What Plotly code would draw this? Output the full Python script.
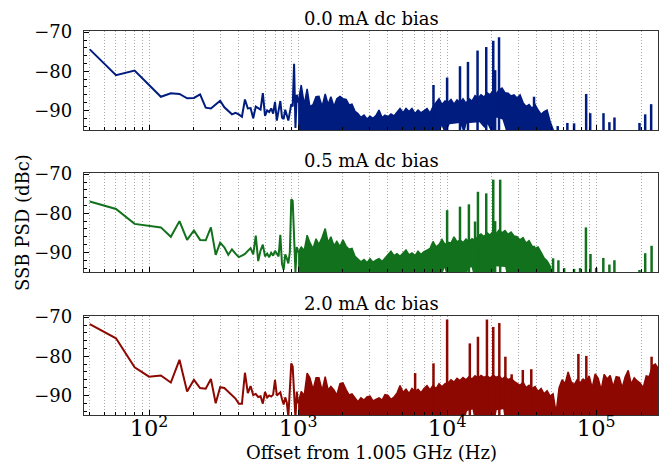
import math
import plotly.graph_objects as go
from plotly.subplots import make_subplots

# ---------------- data ----------------
titles = ["0.0 mA dc bias", "0.5 mA dc bias", "2.0 mA dc bias"]
colors = ["#001c7f", "#12711c", "#8c0800"]

# low-frequency bins (Hz)
lf_freq = [40, 60, 80, 100, 120, 140, 160, 180, 200, 220, 240, 260, 280, 300, 320, 340,
           360, 380, 400, 420, 440, 460, 480, 500, 520, 540, 560, 580, 600, 620, 640, 660,
           680, 700, 720, 740, 760, 780, 800, 820, 840, 860, 880, 900, 920, 940, 960, 980]

lf_0mA = [-74.4, -81.0, -79.8, -83.6, -86.5, -85.6, -85.8, -86.9, -86.8, -85.9, -89.3, -89.5,
          -88.5, -87.5, -89.2, -90.2, -91.0, -90.6, -91.0, -91.6, -87.2, -89.5, -89.4, -92.0,
          -89.0, -89.4, -89.8, -85.6, -91.4, -90.0, -90.4, -89.5, -90.8, -87.8, -92.6, -90.0,
          -87.6, -91.8, -92.2, -89.8, -91.0, -92.6, -90.5, -88.4, -89.0, -78.1, -94.5, -86.0]
lf_05mA = [-77.0, -78.9, -82.7, -83.1, -83.6, -86.0, -82.0, -86.8, -84.4, -86.8, -86.9, -83.6,
           -90.6, -87.5, -88.7, -90.6, -89.2, -90.3, -91.2, -90.8, -90.4, -89.6, -88.9, -90.5,
           -85.7, -92.2, -89.5, -88.0, -91.0, -90.3, -91.2, -90.1, -90.8, -89.6, -90.5, -91.0,
           -85.5, -93.0, -94.4, -90.5, -91.5, -92.8, -90.0, -76.4, -76.8, -88.0, -95.0, -88.6]
lf_2mA = [-71.8, -75.4, -82.8, -85.2, -84.9, -86.7, -80.9, -89.0, -86.0, -88.1, -88.3, -85.8,
          -92.0, -87.9, -88.1, -89.1, -89.9, -90.8, -92.1, -92.1, -84.2, -89.4, -87.6, -89.9,
          -89.6, -90.4, -90.2, -92.1, -89.1, -90.5, -90.0, -90.3, -89.8, -86.0, -90.0, -89.5,
          -89.2, -91.0, -92.3, -90.5, -91.8, -95.5, -88.0, -81.8, -82.6, -90.0, -96.0, -89.0]

# dense noise region: upper envelope on a common frequency grid (Hz)
band_freq = [1000, 1050, 1100, 1150, 1200, 1260, 1320, 1380, 1450, 1520, 1590, 1660, 1740, 1820,
             1910, 2000, 2100, 2200, 2300, 2410, 2520, 2640, 2770, 2900, 3040, 3180, 3330, 3490,
             3660, 3830, 4010, 4200, 4400, 4610, 4830, 5060, 5300, 5550, 5810, 6090, 6380, 6680,
             7000, 7330, 7680, 8040, 8420, 8820, 9240, 9680, 10140, 10620, 11120, 11650, 12200,
             12780, 13390, 14020, 14690, 15390, 16120, 16880, 17680, 18520, 19400, 20320, 21290,
             22300, 23360, 24470, 25630, 26850, 28120, 29460, 30860, 32320, 33860, 35470, 37150,
             38920, 40770, 42710, 44740, 46860, 49090, 51420, 53860, 56420, 59100, 61910, 64850,
             67930, 71160, 74540, 78080, 81790, 85680, 89750, 94010, 98480, 103160, 108060,
             113190, 118570, 124210, 130110, 136290, 142770, 149550, 156650, 164090, 171890,
             180050, 188610, 197570, 206950, 216780, 227080, 237870, 249170, 261000]

band_hi_0mA = [-88, -83.5, -88.5, -84.5, -89,
               -88.5, -86.5, -86.4, -89, -85.8, -88.5, -86.5, -89, -87, -86.4,
               -87.0, -87.2, -88.6, -88.4, -90.2,
               -90.8, -91.8, -91.2, -92.2, -91.5, -92.0, -91.3, -89.9,
               -91.8, -91.2, -91.6, -90.9, -91.4, -90.5, -89.5,
               -90.6, -89.5, -90.3, -89.5, -90.8, -89.9, -90.6, -90.0, -89.5, -90.7,
               -89.0, -88.0, -87.0, -88.5, -87.6,
               -88.0, -87.2, -88.4, -87.3, -88.0, -87.0, -88.2, -87.0, -87.6, -86.2,
               -86.8, -86.0, -86.6, -85.5, -86.0, -85.0, -85.8, -84.8, -84.3, -85.5,
               -85.6, -86.3, -86.0, -86.8, -86.0, -88.0, -89.0, -88.5,
               -89.5, -88.5, -89.9, -91.0, -90.3, -89.9, -92.8,
               -95.5] + [-97] * 35
band_hi_05mA = [-90, -88.6, -89.5, -85.6, -87.5,
                -89.0, -86.5, -88.0, -86.1, -83.9, -87.5, -86.0, -88.3, -87.2, -88.5,
                -86.8, -88.4, -89.2, -89.0, -91.0,
                -91.7, -92.4, -91.8, -92.6, -91.6, -92.5, -92.0, -91.6,
                -92.3, -91.4, -90.6, -89.7, -90.8, -90.3, -91.0,
                -90.2, -89.4, -90.6, -90.1, -90.8, -89.7, -90.5, -89.8, -89.4, -89.0,
                -87.2, -88.6, -88.0, -86.7, -88.0,
                -87.4, -87.6, -86.0, -87.3, -86.8, -87.5, -86.6, -87.2, -86.5, -86.9,
                -85.8, -85.3, -86.0, -85.0, -85.6, -84.6, -85.2, -84.3, -85.0, -84.4,
                -85.4, -84.8, -85.8, -86.0, -86.8, -86.2, -87.6, -87.0,
                -88.4, -89.0, -88.6, -90.0, -91.4, -92.2, -93.5,
                -96] + [-97] * 35
band_hi_2mA = [-92, -89.0, -90, -84.3, -85.5,
               -88.5, -85.5, -85.5, -88.8, -85.2, -88.6, -87.7, -88.6, -89.9, -87.0,
               -86.8, -88.5, -89.9, -89.6, -90.6,
               -91.6, -90.6, -91.2, -90.4, -90.2, -91.4, -91.0, -90.6,
               -91.2, -89.8, -90.0, -91.0, -90.4, -89.4, -87.5,
               -89.2, -88.4, -89.5, -88.2, -89.0, -88.4, -89.3, -88.2, -87.5, -88.6,
               -87.4, -88.3, -87.0, -87.8, -87.0,
               -86.8, -86.0, -86.6, -85.6, -86.2, -85.4, -86.0, -85.2, -85.8, -85.0,
               -85.6, -84.9, -85.4, -85.0, -85.6, -84.8, -85.4, -85.0, -85.8, -85.2,
               -86.0, -85.6, -86.4, -86.8, -87.4, -86.6, -88.0, -87.4,
               -88.2, -87.7, -89.0, -88.2, -89.6, -88.8, -90.2,
               -89.6, -94.5, -88.0, -86.0, -87.0, -84.0, -86.5, -87.3, -86.0, -86.8,
               -85.8, -86.4, -85.0, -88.1, -84.5, -85.6, -88.6, -84.6, -85.8, -84.9,
               -87.8, -85.2, -85.4, -88.0, -85.2, -83.6, -87.1, -85.5, -86.3, -86.9,
               -88.0, -85.0, -85.2, -82.5, -82.0, -83.1]

# lower envelope of the dense region
lo_freq_0mA = [1000, 8800, 9200, 9700, 10400, 12200, 13000, 13500, 14200, 16500, 17800, 18700,
               20000, 20800, 21500, 23500, 24500, 25500, 261000]
lo_0mA = [-97, -97, -94, -96, -93.5, -93.2, -96, -93.4, -93.2, -93.0, -94.5, -93.5,
          -96, -92.5, -91.8, -92.3, -94.5, -97, -97]
lo_freq_05mA = [1000, 9000, 9600, 10200, 13000, 14000, 14600, 15300, 20500, 21000, 24500, 25500, 261000]
lo_05mA = [-97, -97, -94, -97, -97, -94, -93.8, -97, -97, -93.5, -93.7, -97, -97]
lo_freq_2mA = [1000, 13000, 13600, 14800, 15400, 20800, 21500, 23800, 24500, 261000]
lo_2mA = [-97, -97, -94, -93.6, -97, -97, -93.8, -93.5, -97, -97]

# narrow spurs: frequency (Hz) and peak level (dBc)
spur_f_0mA = [8100, 10000, 12200, 13800, 16000, 18300, 20400, 21000, 22300, 38300,
              55200, 64100, 71100, 85700, 91200, 112000, 122700, 132700, 195300, 213300, 233900]
spur_p_0mA = [-83.5, -81.6, -78.7, -77.6, -74.7, -73.8, -72.2, -79.7, -71.3, -86.5,
              -94.0, -93.2, -93.3, -85.8, -90.7, -90.7, -93.0, -91.8, -93.2, -91.0, -88.4]
spur_f_05mA = [10000, 12200, 14000, 15400, 16100, 18300, 20400, 21000, 22700, 38300, 40800,
               51400, 55800, 61000, 71100, 78000, 85400, 91600, 100000, 111700, 122700, 132600,
               195300, 213300, 235500]
spur_p_05mA = [-79.2, -78.3, -77.7, -82.1, -74.5, -74.9, -71.4, -82.0, -71.4, -88.3, -89.6,
               -91.5, -92.0, -94.0, -94.2, -94.0, -83.6, -90.4, -94.0, -91.4, -93.1, -92.0,
               -94.5, -90.2, -88.3]
spur_f_2mA = [6100, 8100, 10000, 14200, 16100, 18500, 20400, 22400, 24600, 27100, 32200, 36700,
              76000, 85900, 235500]
spur_p_2mA = [-84.3, -81.8, -70.6, -76.7, -75.0, -70.6, -72.5, -71.5, -80.1, -84.6, -83.5, -83.3,
              -79.4, -79.9, -80.1]

panels = [
    (lf_0mA, band_hi_0mA, lo_freq_0mA, lo_0mA, spur_f_0mA, spur_p_0mA),
    (lf_05mA, band_hi_05mA, lo_freq_05mA, lo_05mA, spur_f_05mA, spur_p_05mA),
    (lf_2mA, band_hi_2mA, lo_freq_2mA, lo_2mA, spur_f_2mA, spur_p_2mA),
]

x_range_hz = [36.6, 260000]
y_range = [-95, -69.7]
floor_level = -97

# ---------------- figure ----------------
FONT = "DejaVu Serif"
fig = make_subplots(rows=3, cols=1)

for r, (lf, hi, lof, lo, sf, sp) in enumerate(panels, start=1):
    c = colors[r - 1]
    fig.add_trace(go.Scatter(x=lf_freq + [band_freq[0]], y=lf + [hi[0]], mode="lines",
                             line=dict(color=c, width=2), showlegend=False, hoverinfo="skip"),
                  row=r, col=1)
    fig.add_trace(go.Scatter(x=lof, y=lo, mode="lines", line=dict(color=c, width=0),
                             showlegend=False, hoverinfo="skip"), row=r, col=1)
    fig.add_trace(go.Scatter(x=band_freq, y=hi, mode="lines", fill="tonexty", fillcolor=c,
                             line=dict(color=c, width=1.5), showlegend=False, hoverinfo="skip"),
                  row=r, col=1)
    sx, sy = [], []
    for f, p in zip(sf, sp):
        sx += [f, f, None]
        sy += [floor_level, p, None]
    fig.add_trace(go.Scatter(x=sx, y=sy, mode="lines", line=dict(color=c, width=2.5),
                             showlegend=False, hoverinfo="skip"), row=r, col=1)

domains = [[0.7422, 1.0], [0.3724, 0.6302], [0.0, 0.2578]]
axis_line = dict(showline=True, mirror=True, linecolor="#333333", linewidth=1.3, zeroline=False)
grid_col = "#a8a8a8"
grid_dash = "1px,2px"
for r in range(1, 4):
    fig.update_xaxes(type="log", range=[math.log10(x_range_hz[0]), math.log10(x_range_hz[1])],
                     dtick=1, exponentformat="power", showexponent="all",
                     showgrid=True, gridcolor=grid_col, griddash=grid_dash, gridwidth=1,
                     ticks="inside", ticklen=5, tickwidth=1.2, tickcolor="black",
                     minor=dict(dtick="D1", ticks="inside", ticklen=3, tickwidth=1, tickcolor="black",
                                showgrid=True, gridcolor=grid_col, griddash=grid_dash, gridwidth=1),
                     showticklabels=(r == 3), ticklabelstandoff=-6,
                     row=r, col=1, **axis_line)
    fig.update_yaxes(range=y_range, dtick=10, tick0=-70, showgrid=False,
                     ticks="inside", ticklen=5, tickwidth=1.2, tickcolor="black",
                     minor=dict(dtick=2, ticks="inside", ticklen=3, tickwidth=1, tickcolor="black"),
                     ticklabelstandoff=7, domain=domains[r - 1],
                     row=r, col=1, **axis_line)

annotations = []
for r in range(3):
    annotations.append(dict(text=titles[r], x=0.5, xref="paper", y=domains[r][1], yref="paper",
                            xanchor="center", yanchor="bottom", yshift=0, showarrow=False,
                            font=dict(family=FONT, size=18, color="black")))
annotations.append(dict(text="Offset from 1.005 GHz (Hz)", x=0.5, xref="paper", y=0, yref="paper",
                        xanchor="center", yanchor="middle", yshift=-37, showarrow=False,
                        font=dict(family=FONT, size=18, color="black")))
annotations.append(dict(text="SSB PSD (dBc)", x=0, xref="paper", y=0.5, yref="paper",
                        xanchor="center", yanchor="middle", xshift=-62, textangle=-90,
                        showarrow=False, font=dict(family=FONT, size=18, color="black")))

fig.update_layout(width=665, height=465, margin=dict(l=84, r=7, t=31, b=50),
                  paper_bgcolor="white", plot_bgcolor="white",
                  font=dict(family=FONT, size=18, color="black"),
                  annotations=annotations, showlegend=False)

fig.write_html("out.html")
